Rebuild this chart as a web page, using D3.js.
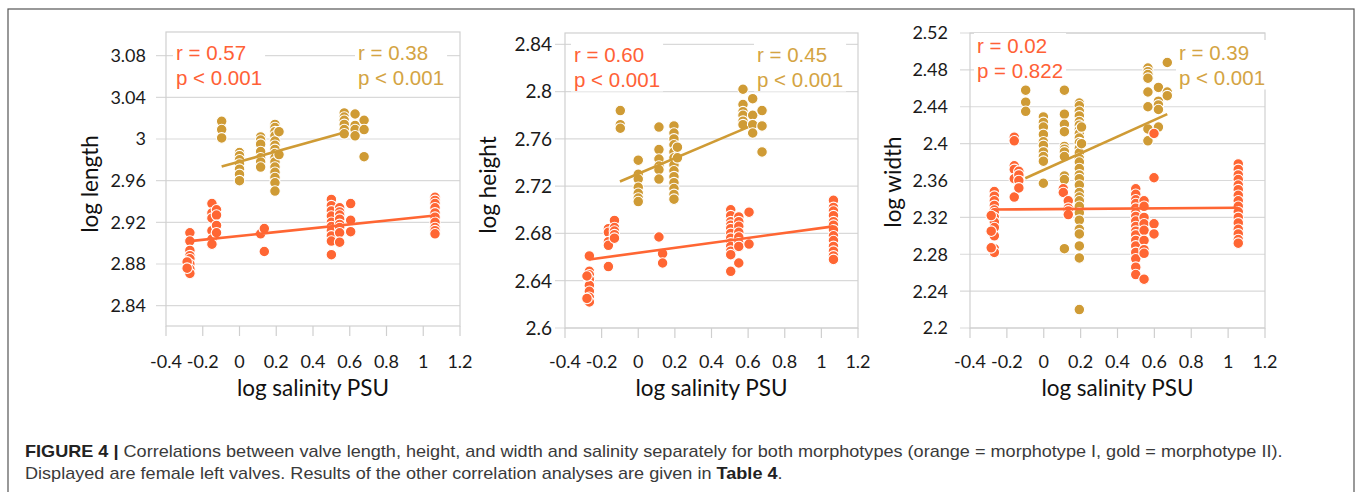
<!DOCTYPE html>
<html>
<head>
<meta charset="utf-8">
<script src="https://cdn.jsdelivr.net/npm/d3@7"></script>
<style>
	body { margin: 0; background: #fff; }
	svg text { font-family: Lato, "Open Sans", sans-serif; }
</style>
</head>
<body>
<svg id="fig" width="1357" height="492"></svg>
<script>
// ---- values ----
const xTicks = [-0.4, -0.2, 0, 0.2, 0.4, 0.6, 0.8, 1, 1.2];
const lengthTicks = [2.84, 2.88, 2.92, 2.96, 3.00, 3.04, 3.08];
const heightTicks = [2.6, 2.64, 2.68, 2.72, 2.76, 2.8, 2.84];
const widthTicks = [2.2, 2.24, 2.28, 2.32, 2.36, 2.4, 2.44, 2.48, 2.52];

// columns: [log salinity, [values...]]
const lengthOrange = [
	[-0.27, [2.910, 2.902, 2.893, 2.888, 2.885, 2.880, 2.875, 2.871]],
	[-0.285, [2.882, 2.876]],
	[-0.15, [2.938, 2.929, 2.924, 2.912, 2.904, 2.899]],
	[-0.125, [2.932, 2.927, 2.917, 2.910]],
	[0.115, [2.909]],
	[0.135, [2.914, 2.892]],
	[0.5, [2.942, 2.936, 2.931, 2.926, 2.920, 2.916, 2.912, 2.907, 2.902, 2.889]],
	[0.545, [2.934, 2.930, 2.927, 2.923, 2.918, 2.915, 2.910, 2.901]],
	[0.605, [2.938, 2.922, 2.911]],
	[1.064, [2.944, 2.941, 2.938, 2.934, 2.929, 2.925, 2.920, 2.915, 2.912, 2.909]]
];
const lengthGold = [
	[-0.097, [3.017, 3.009, 3.001]],
	[0.0, [2.987, 2.984, 2.980, 2.976, 2.971, 2.966, 2.960]],
	[0.115, [3.002, 2.999, 2.995, 2.988, 2.982, 2.978, 2.973]],
	[0.193, [3.014, 3.011, 3.007, 3.003, 2.998, 2.994, 2.990, 2.986, 2.982, 2.978, 2.973, 2.968, 2.963, 2.958, 2.950]],
	[0.215, [3.007, 2.985]],
	[0.57, [3.025, 3.021, 3.018, 3.014, 3.009, 3.005]],
	[0.629, [3.024, 3.013, 3.009, 3.003]],
	[0.678, [3.018, 3.009, 2.983]]
];
const heightOrange = [
	[-0.267, [2.661, 2.648, 2.645, 2.641, 2.636, 2.631, 2.626, 2.622]],
	[-0.28, [2.644, 2.625]],
	[-0.163, [2.684, 2.681, 2.673, 2.670, 2.652]],
	[-0.13, [2.691, 2.685, 2.682, 2.679, 2.676]],
	[0.113, [2.677]],
	[0.133, [2.663, 2.655]],
	[0.505, [2.700, 2.695, 2.690, 2.687, 2.684, 2.680, 2.676, 2.672, 2.669, 2.665, 2.662, 2.648]],
	[0.549, [2.694, 2.690, 2.686, 2.681, 2.677, 2.672, 2.669, 2.655]],
	[0.605, [2.698, 2.671]],
	[1.066, [2.708, 2.702, 2.699, 2.695, 2.690, 2.687, 2.683, 2.678, 2.674, 2.669, 2.665, 2.661, 2.658]]
];
const heightGold = [
	[-0.098, [2.784, 2.772, 2.769]],
	[0.0, [2.742, 2.730, 2.726, 2.719, 2.714, 2.710, 2.707]],
	[0.113, [2.770, 2.751, 2.743, 2.737, 2.734, 2.726]],
	[0.195, [2.771, 2.765, 2.760, 2.755, 2.749, 2.744, 2.738, 2.733, 2.728, 2.723, 2.718, 2.713, 2.709]],
	[0.214, [2.753, 2.744]],
	[0.572, [2.802, 2.789, 2.783, 2.780, 2.775, 2.772]],
	[0.625, [2.794, 2.780, 2.772, 2.765]],
	[0.676, [2.784, 2.771, 2.749]]
];
const widthOrange = [
	[-0.268, [2.348, 2.343, 2.338, 2.333, 2.328, 2.325, 2.320, 2.315, 2.309, 2.300, 2.286, 2.282]],
	[-0.285, [2.322, 2.305, 2.287]],
	[-0.16, [2.407, 2.403, 2.376, 2.372, 2.362, 2.342]],
	[-0.135, [2.370, 2.366, 2.360, 2.352]],
	[0.106, [2.351, 2.347]],
	[0.133, [2.338, 2.330, 2.327, 2.323]],
	[0.499, [2.351, 2.345, 2.339, 2.335, 2.330, 2.325, 2.321, 2.316, 2.310, 2.305, 2.301, 2.295, 2.289, 2.282, 2.275, 2.266, 2.258]],
	[0.544, [2.338, 2.332, 2.320, 2.313, 2.306, 2.295, 2.285, 2.281, 2.253]],
	[0.598, [2.411, 2.363, 2.313, 2.302]],
	[1.055, [2.378, 2.372, 2.366, 2.361, 2.355, 2.350, 2.344, 2.338, 2.332, 2.326, 2.320, 2.314, 2.307, 2.302, 2.296, 2.292]]
];
const widthGold = [
	[-0.098, [2.458, 2.445, 2.435]],
	[-0.002, [2.429, 2.423, 2.418, 2.410, 2.402, 2.398, 2.391, 2.386, 2.381, 2.357]],
	[0.112, [2.458, 2.432, 2.421, 2.413, 2.397, 2.394, 2.391, 2.386, 2.365, 2.361, 2.286]],
	[0.193, [2.444, 2.441, 2.435, 2.430, 2.424, 2.420, 2.415, 2.411, 2.406, 2.401, 2.395, 2.390, 2.384, 2.380, 2.373, 2.366, 2.362, 2.355, 2.347, 2.342, 2.338, 2.332, 2.325, 2.317, 2.307, 2.302, 2.289, 2.276, 2.220]],
	[0.205, [2.418, 2.400]],
	[0.565, [2.482, 2.478, 2.475, 2.471, 2.456, 2.440, 2.416, 2.403]],
	[0.622, [2.461, 2.446, 2.442, 2.437, 2.418]],
	[0.67, [2.488, 2.456, 2.452]]
];

// trend lines (start, end) as drawn
const lengthOrangeFit = [[-0.27, 2.902], [1.064, 2.9265]];
const lengthGoldFit = [[-0.097, 2.9735], [0.57, 3.0062]];
const heightOrangeFit = [[-0.267, 2.658], [1.066, 2.686]];
const heightGoldFit = [[-0.1, 2.724], [0.6, 2.770]];
const widthOrangeFit = [[-0.27, 2.3285], [1.055, 2.3305]];
const widthGoldFit = [[-0.1, 2.3625], [0.67, 2.432]];

const statsOrange = [["r = 0.57", "p < 0.001"], ["r = 0.60", "p < 0.001"], ["r = 0.02", "p = 0.822"]];
const statsGold = [["r = 0.38", "p < 0.001"], ["r = 0.45", "p < 0.001"], ["r = 0.39", "p < 0.001"]];

const captionLine1 = [["FIGURE 4 | ", true], ["Correlations between valve length, height, and width and salinity separately for both morphotypes (orange = morphotype I, gold = morphotype II).", false]];
const captionLine2 = [["Displayed are female left valves. Results of the other correlation analyses are given in ", false], ["Table 4", true], [".", false]];

// ---- layout ----
const orange = "#ff6633", gold = "#cf9b35";
const orangeText = "#ff6136", goldText = "#d4a443";
const arial = "'Liberation Sans', Arial, sans-serif";

const panels = [
	{title: "log length", left: 166, right: 460, top: 32, bottom: 326, yDomain: [2.8205, 3.1027], ticks: lengthTicks,
		orange: lengthOrange, gold: lengthGold, oFit: lengthOrangeFit, gFit: lengthGoldFit,
		oPos: [176, 60], gPos: [358, 60], titlePos: [90, 184], gap: 20, tickFont: 18},
	{title: "log height", left: 565, right: 858, top: 33, bottom: 328, yDomain: [2.6, 2.8496], ticks: heightTicks,
		orange: heightOrange, gold: heightGold, oFit: heightOrangeFit, gFit: heightGoldFit,
		oPos: [574, 62], gPos: [757, 62], titlePos: [488, 185], gap: 13, tickFont: 19},
	{title: "log width", left: 970, right: 1265, top: 33, bottom: 328, yDomain: [2.2, 2.52], ticks: widthTicks,
		orange: widthOrange, gold: widthGold, oFit: widthOrangeFit, gFit: widthGoldFit,
		oPos: [977, 53], gPos: [1179, 60], titlePos: [893, 182], gap: 22, tickFont: 18}
];

const svg = d3.select("#fig");
const fmt = d => String(+d.toFixed(2));
const flat = cols => cols.flatMap(([x, ys]) => ys.map(y => ({x: x, y: y})));

// outer frame
svg.append("rect")
	.attr("x", 8).attr("y", 9)
	.attr("width", 1346).attr("height", 500)
	.attr("fill", "none")
	.attr("stroke", "#555")
	.attr("stroke-width", 1.2);

panels.forEach(function(p, i){
	let scaleX = d3.scaleLinear().domain([-0.4, 1.2]).range([p.left, p.right]);
	let scaleY = d3.scaleLinear().domain(p.yDomain).range([p.bottom, p.top]);
	let g = svg.append("g").attr("class", "panel");

	// gridlines + y tick marks
	g.selectAll("line.grid")
		.data(p.ticks)
		.join("line")
		.attr("class", "grid")
		.attr("x1", p.left - 10).attr("x2", p.right)
		.attr("y1", d => scaleY(d)).attr("y2", d => scaleY(d))
		.attr("stroke", "#d9d9d9")
		.attr("stroke-width", 1.2);

	// plot area border
	g.append("rect")
		.attr("x", p.left).attr("y", p.top)
		.attr("width", p.right - p.left).attr("height", p.bottom - p.top)
		.attr("fill", "none")
		.attr("stroke", "#d0d0d0")
		.attr("stroke-width", 1.2);

	// x tick marks
	g.selectAll("line.xtick")
		.data(xTicks)
		.join("line")
		.attr("class", "xtick")
		.attr("x1", d => scaleX(d)).attr("x2", d => scaleX(d))
		.attr("y1", p.bottom).attr("y2", p.bottom + 10)
		.attr("stroke", "#cfcfcf")
		.attr("stroke-width", 1.2);

	g.selectAll("text.ytick")
		.data(p.ticks)
		.join("text")
		.attr("class", "ytick")
		.attr("x", p.left - p.gap)
		.attr("y", d => scaleY(d))
		.attr("dy", "0.36em")
		.attr("text-anchor", "end")
		.attr("font-size", p.tickFont)
		.attr("fill", "#1a1a1a")
		.text(fmt);

	g.selectAll("text.xtick")
		.data(xTicks)
		.join("text")
		.attr("class", "xtick")
		.attr("x", d => scaleX(d))
		.attr("y", 368)
		.attr("text-anchor", "middle")
		.attr("font-size", 18)
		.attr("fill", "#1a1a1a")
		.text(fmt);

	g.append("text")
		.attr("transform", "translate(" + p.titlePos[0] + "," + p.titlePos[1] + ") rotate(-90)")
		.attr("dy", "0.35em")
		.attr("text-anchor", "middle")
		.attr("font-size", 22.5)
		.attr("fill", "#111")
		.text(p.title);

	g.append("text")
		.attr("x", (p.left + p.right) / 2)
		.attr("y", 396)
		.attr("text-anchor", "middle")
		.attr("font-size", 22.5)
		.attr("fill", "#111")
		.text("log salinity PSU");

	let line = d3.line().x(d => scaleX(d[0])).y(d => scaleY(d[1]));

	function drawSeries(cols, fit, colour){
		g.append("g").selectAll("circle")
			.data(flat(cols))
			.join("circle")
			.attr("cx", d => scaleX(d.x))
			.attr("cy", d => scaleY(d.y))
			.attr("r", 5.3)
			.attr("fill", colour)
			.attr("stroke", "#fff")
			.attr("stroke-width", 1.1);
		g.append("path")
			.datum(fit)
			.attr("d", line)
			.attr("fill", "none")
			.attr("stroke", colour)
			.attr("stroke-width", 2.6);
	}
	drawSeries(p.gold, p.gFit, gold);
	drawSeries(p.orange, p.oFit, orange);

	function drawStats(lines, pos, colour){
		let lg = g.append("g");
		let bg = lg.append("rect").attr("fill", "#fff");
		let t = lg.append("text")
			.style("font-family", arial)
			.attr("font-size", 20.5)
			.attr("fill", colour);
		t.selectAll("tspan")
			.data(lines)
			.join("tspan")
			.attr("x", pos[0])
			.attr("y", (d, k) => pos[1] + k * 24.5)
			.text(d => d);
		let bb = t.node().getBBox();
		bg.attr("x", bb.x - 3).attr("y", bb.y - 1)
			.attr("width", bb.width + 6).attr("height", bb.height + 2);
	}
	drawStats(statsOrange[i], p.oPos, orangeText);
	drawStats(statsGold[i], p.gPos, goldText);
});

// caption
let cap = svg.append("g").attr("class", "caption");
function captionLine(parts, y){
	let t = cap.append("text")
		.attr("x", 0).attr("y", y)
		.style("font-family", arial)
		.attr("font-size", 17)
		.attr("fill", "#3a3a3a");
	t.selectAll("tspan")
		.data(parts)
		.join("tspan")
		.attr("font-weight", d => d[1] ? "bold" : "normal")
		.attr("fill", d => d[1] ? "#222" : "#3a3a3a")
		.text(d => d[0]);
	return t;
}
let l1 = captionLine(captionLine1, 457);
captionLine(captionLine2, 479);
let w1 = l1.node().getComputedTextLength();
cap.attr("transform", "translate(25,0) scale(" + (1258 / w1) + ",1)");
</script>
</body>
</html>
